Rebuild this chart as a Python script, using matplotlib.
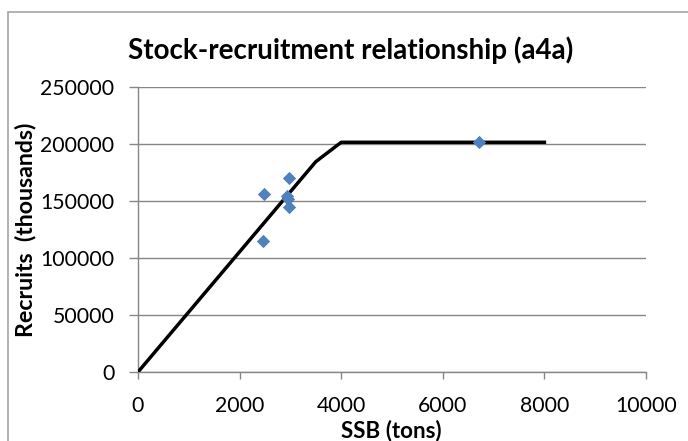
import matplotlib.pyplot as plt
from matplotlib.patches import Rectangle

plt.rcParams['font.family'] = ['Lato', 'DejaVu Sans']

# fitted hockey-stick line
ssb_fit = [0, 3500, 4000, 8000]
rec_fit = [0, 184500, 201500, 201500]

# observed points
ssb_obs = [2480, 2470, 2975, 2930, 2955, 2975, 6710]
rec_obs = [155900, 115300, 170000, 154500, 151500, 144800, 201500]

W, H = 688, 441
fig = plt.figure(figsize=(W / 100, H / 100), dpi=100)
renderer = fig.canvas.get_renderer()


def fit_size(text, target_px, weight='normal'):
    # font size that gives the text a given width in pixels
    t = fig.text(0, 0, text, fontsize=10, fontweight=weight)
    w = t.get_window_extent(renderer).width
    t.remove()
    return 10 * target_px / w


tick_fs = fit_size('250000', 74)
title_fs = fit_size('Stock-recruitment relationship (a4a)', 445, 'bold')
xlab_fs = fit_size('SSB (tons)', 101, 'bold')
ylab_fs = fit_size('Recruits  (thousands)', 215, 'bold')

ax = fig.add_axes([138 / W, 1 - 372 / H, (646 - 138) / W, (372 - 87) / H])

# chart area border
fig.patches.append(Rectangle((8 / W, -0.1), 1.2, 1 - 12 / H + 0.1, transform=fig.transFigure,
                             fill=False, edgecolor='#a6a6a6', linewidth=1.2))

ax.plot(ssb_fit, rec_fit, color='black', linewidth=2.5, zorder=3)
ax.scatter(ssb_obs, rec_obs, marker='D', s=46, color='#4f81bd', zorder=4, linewidths=0)

ax.set_xlim(0, 10000)
ax.set_ylim(0, 250000)
ax.set_xticks(range(0, 10001, 2000))
ax.set_yticks(range(0, 250001, 50000))
ax.grid(axis='y', color='#868686', linewidth=1)
ax.set_axisbelow(True)

for s in ['top', 'right']:
    ax.spines[s].set_visible(False)
for s in ['left', 'bottom']:
    ax.spines[s].set_color('#868686')
    ax.spines[s].set_linewidth(1)
ax.tick_params(axis='both', colors='#868686', width=1, labelsize=tick_fs, labelcolor='black')
ax.tick_params(axis='x', length=5, pad=12)
ax.tick_params(axis='y', length=6.5, pad=10.5)

fig.text(351 / W, 1 - 59 / H, 'Stock-recruitment relationship (a4a)', fontsize=title_fs,
         fontweight='bold', ha='center', va='baseline')
fig.text(391 / W, 1 - 437 / H, 'SSB (tons)', fontsize=xlab_fs, fontweight='bold',
         ha='center', va='baseline')
fig.text(26 / W, 1 - 230 / H, 'Recruits  (thousands)', fontsize=ylab_fs, fontweight='bold',
         rotation=90, ha='center', va='center')

fig.savefig('out.png', dpi=100)
